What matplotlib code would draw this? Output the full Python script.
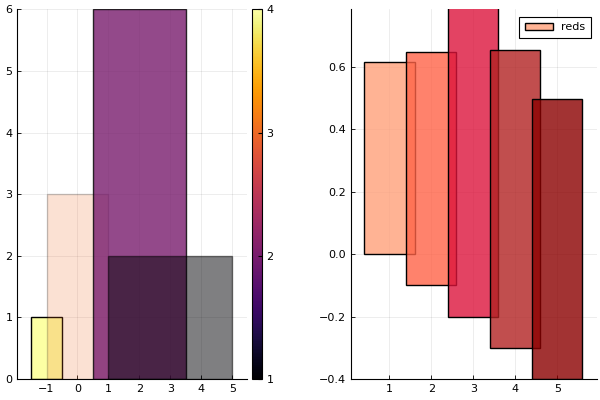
import numpy as np
import matplotlib
matplotlib.use("Agg")
import matplotlib.pyplot as plt
from matplotlib.colors import Normalize, to_rgba
from matplotlib.cm import ScalarMappable

# left panel: bars with colour values
left_x = [-1, 0, 2, 3]
left_w = [1, 2, 3, 4]
left_h = [1, 3, 6, 2]
left_z = [4, 3, 2, 1]
left_alpha = [1.0, 0.2, 0.8, 0.5]

# right panel: bars with fillrange
right_x = [1, 2, 3, 4, 5]
right_top = [0.615, 0.65, 0.80, 0.655, 0.497]
right_bottom = [0.0, -0.1, -0.2, -0.3, -0.4]
right_colors = ["lightsalmon", "tomato", "crimson", "firebrick", "darkred"]
right_label = "reds"

plt.rcParams['font.family'] = ['DejaVu Sans']
plt.rcParams['font.size'] = 8

fig = plt.figure(figsize=(6, 4), dpi=100)
ax1 = fig.add_axes([0.029, 0.0525, 0.382, 0.924])
cax = fig.add_axes([0.42, 0.0525, 0.016, 0.924])
ax2 = fig.add_axes([0.5845, 0.0525, 0.41, 0.924])


def style(ax):
    for s in ["top", "right"]:
        ax.spines[s].set_visible(False)
    ax.grid(True, color="black", alpha=0.1, linewidth=0.5)
    ax.set_axisbelow(True)
    ax.tick_params(direction="in", length=3, width=0.6, labelsize=8)


cmap = plt.get_cmap("inferno")
norm = Normalize(1, 4)
for x, w, h, z, a in zip(left_x, left_w, left_h, left_z, left_alpha):
    fc = to_rgba(cmap(norm(z)), a)
    ec = to_rgba("black", a)
    ax1.bar(x, h, width=w, color=fc, edgecolor=ec, linewidth=1)
ax1.set_xlim(-1.94, 5.46)
ax1.set_ylim(0, 6)
ax1.set_xticks(range(-1, 6))
ax1.set_yticks(range(0, 7))
style(ax1)

sm = ScalarMappable(norm=norm, cmap=cmap)
cb = fig.colorbar(sm, cax=cax, ticks=[1, 2, 3, 4])
cb.ax.tick_params(labelsize=8, length=3, direction="in")
cb.outline.set_linewidth(0.8)

for i, (x, t, b, c) in enumerate(zip(right_x, right_top, right_bottom, right_colors)):
    ax2.bar(x, t - b, bottom=b, width=1.2, color=to_rgba(c, 0.8),
            edgecolor="black", linewidth=1,
            label=right_label if i == 0 else None)
ax2.set_xlim(0.08, 5.94)
ax2.set_ylim(-0.4, 0.785)
ax2.set_xticks(range(1, 6))
ax2.set_yticks([-0.4, -0.2, 0.0, 0.2, 0.4, 0.6])
ax2.set_yticklabels(["\u22120.4", "\u22120.2", "0.0", "0.2", "0.4", "0.6"])
style(ax2)
leg = ax2.legend(loc="upper right", fancybox=False, edgecolor="black",
                 framealpha=1, fontsize=8, borderpad=0.5, handlelength=2.5,
                 bbox_to_anchor=(1.0, 0.995))
leg.get_frame().set_linewidth(0.8)

fig.savefig("out.png", dpi=100)
